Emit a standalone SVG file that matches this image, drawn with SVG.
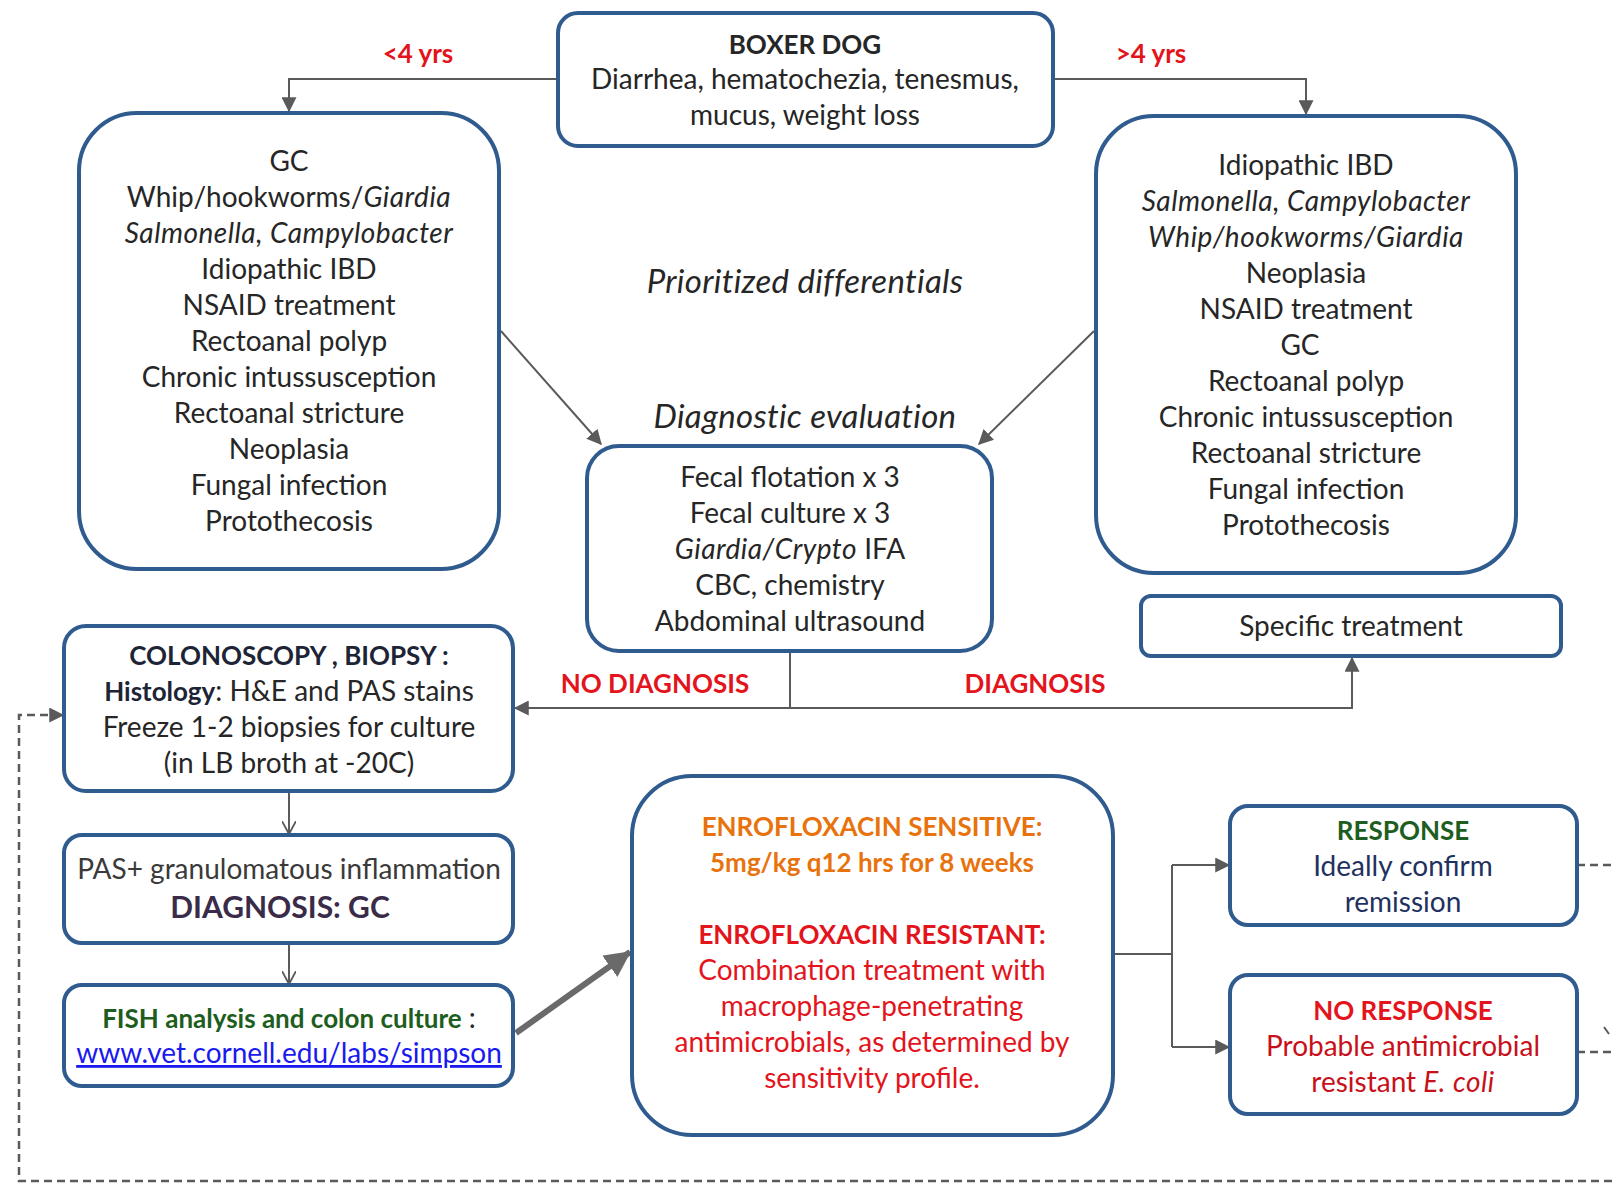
<svg xmlns="http://www.w3.org/2000/svg" width="1612" height="1184" viewBox="0 0 1612 1184">
<style>
.box{fill:#fff;stroke:#2f5b8e;stroke-width:4}
.t{font-family:Lato,"Liberation Sans",sans-serif;font-size:28px;fill:#262626;text-anchor:middle}
.b{font-weight:bold;font-size:26px}
.i{font-style:italic;letter-spacing:0.5px}
.h{font-style:italic;font-size:33px;letter-spacing:0.3px}
.red{fill:#e3141c}
.dred{fill:#c8101a}
.org{fill:#e8720c}
.grn{fill:#1d5e20}
.navy{fill:#1f3160}
.conn{stroke:#5a5a5a;stroke-width:2;fill:none}
.dash{stroke:#5a5a5a;stroke-width:2.5;stroke-dasharray:8 5;fill:none}
</style>
<defs>
<marker id="ah" markerUnits="userSpaceOnUse" viewBox="0 0 12 12" refX="11" refY="6" markerWidth="15" markerHeight="15" orient="auto">
<path d="M0,0 L12,6 L0,12 z" fill="#5a5a5a"/>
</marker>
<marker id="av" markerUnits="userSpaceOnUse" viewBox="0 0 12 12" refX="11" refY="6" markerWidth="14" markerHeight="14" orient="auto">
<path d="M0,0 L11,6 L0,12" fill="none" stroke="#5a5a5a" stroke-width="1.6"/>
</marker>
<marker id="ab" markerUnits="userSpaceOnUse" viewBox="0 0 20 20" refX="19" refY="10" markerWidth="26" markerHeight="26" orient="auto">
<path d="M0,0 L20,10 L0,20 z" fill="#6a6a6a"/>
</marker>
</defs>
<rect width="1612" height="1184" fill="#fff"/>

<g id="connectors">
<path class="conn" d="M558,79 H289 V111" marker-end="url(#ah)"/>
<path class="conn" d="M1053,79 H1306 V114" marker-end="url(#ah)"/>
<path class="conn" d="M501,331 L601,444" marker-end="url(#ah)"/>
<path class="conn" d="M1094,331 L979,444" marker-end="url(#ah)"/>
<path class="conn" d="M790,651 V708"/>
<path class="conn" d="M790,708 H515" marker-end="url(#ah)"/>
<path class="conn" d="M790,708 H1352 V658" marker-end="url(#ah)"/>
<path class="conn" d="M289,791 V834" marker-end="url(#av)"/>
<path class="conn" d="M289,943 V984" marker-end="url(#av)"/>
<path d="M516,1033 L630,952" stroke="#6a6a6a" stroke-width="6" fill="none" marker-end="url(#ab)"/>
<path class="conn" d="M1113,954 H1172"/>
<path class="conn" d="M1172,865 V1047"/>
<path class="conn" d="M1172,865 H1229" marker-end="url(#ah)"/>
<path class="conn" d="M1172,1047 H1229" marker-end="url(#ah)"/>
<path class="dash" d="M1577,865 H1612"/>
<path class="dash" d="M1577,1052 H1612"/>
<path class="conn" d="M1604,1027 L1609,1034"/>
<path class="dash" d="M1612,1181 H19 V715 H63" marker-end="url(#ah)"/>
</g>

<g id="label-lt4"><text class="t b red" x="418" y="63">&lt;4 yrs</text></g>
<g id="label-gt4"><text class="t b red" x="1151" y="63">&gt;4 yrs</text></g>
<g id="label-prior"><text class="t h" x="805" y="293">Prioritized differentials</text></g>
<g id="label-diag-eval"><text class="t h" x="805" y="428">Diagnostic evaluation</text></g>
<g id="label-nodiag"><text class="t b red" x="655" y="693">NO DIAGNOSIS</text></g>
<g id="label-diag"><text class="t b red" x="1035" y="693">DIAGNOSIS</text></g>

<g id="boxer">
<rect class="box" x="558" y="13" width="495" height="133" rx="20"/>
<text class="t b" x="805" y="54">BOXER DOG</text>
<text class="t" x="805" y="89">Diarrhea, hematochezia, tenesmus,</text>
<text class="t" x="805" y="125">mucus, weight loss</text>
</g>

<g id="young">
<rect class="box" x="79" y="113" width="420" height="456" rx="58"/>
<text class="t" x="289" y="171">GC</text>
<text class="t" x="289" y="207">Whip/hookworms/<tspan class="i">Giardia</tspan></text>
<text class="t i" x="289" y="243">Salmonella, Campylobacter</text>
<text class="t" x="289" y="279">Idiopathic IBD</text>
<text class="t" x="289" y="315">NSAID treatment</text>
<text class="t" x="289" y="351">Rectoanal polyp</text>
<text class="t" x="289" y="387">Chronic intussusception</text>
<text class="t" x="289" y="423">Rectoanal stricture</text>
<text class="t" x="289" y="459">Neoplasia</text>
<text class="t" x="289" y="495">Fungal infection</text>
<text class="t" x="289" y="531">Protothecosis</text>
</g>

<g id="old">
<rect class="box" x="1096" y="116" width="420" height="457" rx="58"/>
<text class="t" x="1306" y="175">Idiopathic IBD</text>
<text class="t i" x="1306" y="211">Salmonella, Campylobacter</text>
<text class="t i" x="1306" y="247">Whip/hookworms/Giardia</text>
<text class="t" x="1306" y="283">Neoplasia</text>
<text class="t" x="1306" y="319">NSAID treatment</text>
<text class="t" x="1300" y="355">GC</text>
<text class="t" x="1306" y="391">Rectoanal polyp</text>
<text class="t" x="1306" y="427">Chronic intussusception</text>
<text class="t" x="1306" y="463">Rectoanal stricture</text>
<text class="t" x="1306" y="499">Fungal infection</text>
<text class="t" x="1306" y="535">Protothecosis</text>
</g>

<g id="diagnostic">
<rect class="box" x="587" y="446" width="405" height="205" rx="32"/>
<text class="t" x="790" y="487">Fecal flotation x 3</text>
<text class="t" x="790" y="523">Fecal culture x 3</text>
<text class="t" x="790" y="559"><tspan class="i">Giardia/Crypto</tspan> IFA</text>
<text class="t" x="790" y="595">CBC, chemistry</text>
<text class="t" x="790" y="631">Abdominal ultrasound</text>
</g>

<g id="specific">
<rect class="box" x="1141" y="596" width="420" height="60" rx="10"/>
<text class="t" x="1351" y="636">Specific treatment</text>
</g>

<g id="colonoscopy">
<rect class="box" x="64" y="626" width="449" height="165" rx="22"/>
<text class="t b" x="289" y="665" style="fill:#1c2436">COLONOSCOPY , BIOPSY :</text>
<text class="t" x="289" y="701"><tspan class="b" style="fill:#1c2436">Histology</tspan>: H&amp;E and PAS stains</text>
<text class="t" x="289" y="737">Freeze 1-2 biopsies for culture</text>
<text class="t" x="289" y="773">(in LB broth at -20C)</text>
</g>

<g id="pas">
<rect class="box" x="64" y="835" width="449" height="108" rx="18"/>
<text class="t" x="289" y="879" style="fill:#3a3a3a">PAS+ granulomatous inflammation</text>
<text class="t b" x="280" y="918" style="font-size:30px;fill:#3a2c48">DIAGNOSIS: GC</text>
</g>

<g id="fish">
<rect class="box" x="64" y="985" width="449" height="101" rx="18"/>
<text class="t" x="289" y="1028"><tspan class="b grn">FISH analysis and colon culture</tspan> :</text>
<text class="t" x="289" y="1063" style="fill:#1a1aee;text-decoration:underline">www.vet.cornell.edu/labs/simpson</text>
</g>

<g id="enro">
<rect class="box" x="632" y="776" width="481" height="359" rx="60"/>
<text class="t b org" x="872" y="836">ENROFLOXACIN SENSITIVE:</text>
<text class="t b org" x="872" y="872">5mg/kg q12 hrs for 8 weeks</text>
<text class="t b red" x="872" y="944">ENROFLOXACIN RESISTANT:</text>
<text class="t red" x="872" y="980">Combination treatment with</text>
<text class="t red" x="872" y="1016">macrophage-penetrating</text>
<text class="t red" x="872" y="1052">antimicrobials, as determined by</text>
<text class="t red" x="872" y="1088">sensitivity profile.</text>
</g>

<g id="response">
<rect class="box" x="1230" y="806" width="347" height="119" rx="18"/>
<text class="t b grn" x="1403" y="840">RESPONSE</text>
<text class="t navy" x="1403" y="876">Ideally confirm</text>
<text class="t navy" x="1403" y="912">remission</text>
</g>

<g id="noresponse">
<rect class="box" x="1230" y="975" width="347" height="139" rx="18"/>
<text class="t b red" x="1403" y="1020">NO RESPONSE</text>
<text class="t dred" x="1403" y="1056">Probable antimicrobial</text>
<text class="t dred" x="1403" y="1092">resistant <tspan class="i">E. coli</tspan></text>
</g>
</svg>
